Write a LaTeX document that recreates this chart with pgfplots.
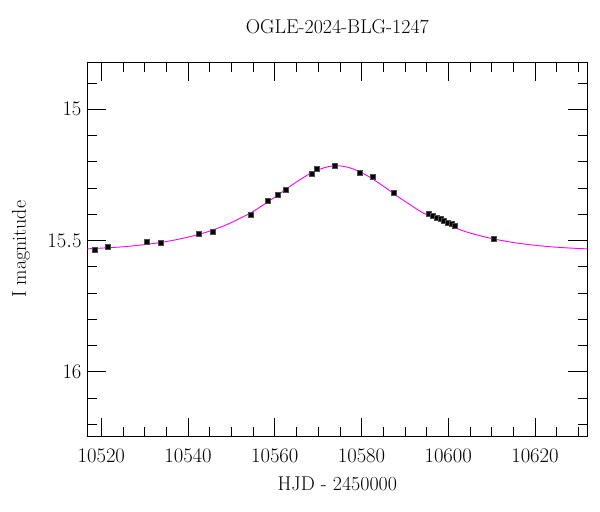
\documentclass[border=0pt]{standalone}
\usepackage{pgfplots}
\pgfplotsset{compat=1.18}
\definecolor{fitmag}{RGB}{255,0,255}
\begin{document}
\begin{tikzpicture}
\begin{axis}[
  scale only axis, width=500bp, height=374.5bp,
  xmin=10516.77, xmax=10632.06, ymin=14.82, ymax=16.247, y dir=reverse,
  xtick={10520,10540,...,10620}, minor xtick={10525,10530,...,10630},
  ytick={15,15.5,16}, minor ytick={14.9,15.1,15.2,15.3,15.4,15.6,15.7,15.8,15.9,16.1,16.2},
  scaled x ticks=false, scaled y ticks=false,
  /pgf/number format/set thousands separator={},
  tick align=inside, major tick length=19bp, minor tick length=9.5bp,
  every tick/.style={black, line width=0.6bp},
  axis line style={line width=0.8bp},
  tick label style={font=\fontsize{20}{24}\selectfont},
  xticklabel style={anchor=base, yshift=-26.2bp},
  yticklabel style={xshift=-2.3bp},
  label style={font=\fontsize{20}{24}\selectfont},
  xlabel={HJD - 2450000}, ylabel={I magnitude}, title={OGLE-2024-BLG-1247},
  xlabel style={at={(axis description cs:0.5,-0.1447)}, anchor=base},
  ylabel style={at={(axis description cs:-0.1226,0.5)}, anchor=base},
  title style={font=\fontsize{20}{24}\selectfont, at={(axis description cs:0.5,1.0606)}, anchor=base},
]
% model curve
\addplot[fitmag, line width=0.9bp, smooth] coordinates {
(10516.8,15.532) (10524.3,15.525) (10529.3,15.517) (10534.3,15.506) (10539.3,15.490)
(10544.3,15.468) (10549.3,15.437) (10554.3,15.396) (10556.3,15.376) (10558.3,15.354)
(10560.3,15.332) (10562.3,15.308) (10564.3,15.285) (10566.3,15.263) (10568.3,15.244)
(10570.3,15.229) (10572.3,15.219) (10574.3,15.215) (10576.3,15.219) (10578.3,15.229)
(10580.3,15.244) (10582.3,15.263) (10584.3,15.285) (10586.3,15.308) (10588.3,15.332)
(10590.3,15.354) (10592.3,15.376) (10594.3,15.396) (10599.3,15.437) (10604.3,15.468)
(10609.3,15.490) (10614.3,15.506) (10619.3,15.517) (10624.3,15.525) (10629.3,15.530)
(10632.1,15.532)
};
% data
\addplot[only marks, mark=square*, mark size=2.5bp, black,
  mark options={draw=black!70, fill=black, line width=0.4bp},
  error bars/.cd, y dir=both, y explicit, error bar style={black, line width=0.6bp}]
coordinates {
(10518.5,15.534) +- (0,0.005)
(10521.5,15.524) +- (0,0.005)
(10530.5,15.503) +- (0,0.005)
(10533.6,15.508) +- (0,0.005)
(10542.5,15.475) +- (0,0.005)
(10545.7,15.465) +- (0,0.005)
(10554.5,15.403) +- (0,0.005)
(10558.4,15.348) +- (0,0.005)
(10560.6,15.325) +- (0,0.005)
(10562.6,15.305) +- (0,0.005)
(10568.6,15.244) +- (0,0.005)
(10569.6,15.228) +- (0,0.005)
(10573.7,15.215) +- (0,0.005)
(10579.5,15.242) +- (0,0.005)
(10582.5,15.257) +- (0,0.005)
(10587.4,15.319) +- (0,0.005)
(10595.4,15.398) +- (0,0.005)
(10596.4,15.405) +- (0,0.005)
(10597.3,15.412) +- (0,0.005)
(10598.2,15.418) +- (0,0.005)
(10599.0,15.424) +- (0,0.005)
(10599.9,15.431) +- (0,0.005)
(10600.7,15.437) +- (0,0.005)
(10601.5,15.443) +- (0,0.005)
(10610.5,15.494) +- (0,0.005)
};
\end{axis}
\pgfresetboundingbox
\path[use as bounding box] (current axis.south west) ++(-87.3bp,-75.5bp) rectangle ++(600bp,512bp);
\end{tikzpicture}
\end{document}
